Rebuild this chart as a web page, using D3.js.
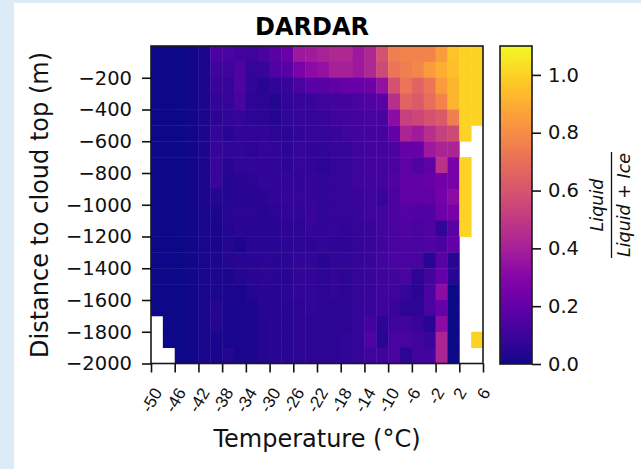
<!DOCTYPE html>
<html>
<head>
<meta charset="utf-8">
<script src="https://cdn.jsdelivr.net/npm/d3@7"></script>
<style>
  body { margin: 0; background: #ddebf7; }
  svg { display: block; font-family: "DejaVu Sans", sans-serif; }
</style>
</head>
<body>
<div id="chart"></div>
<script>

// bin edges (degC, m)
var tempEdges = [-50,-48,-46,-44,-42,-40,-38,-36,-34,-32,-30,-28,-26,-24,-22,-20,-18,-16,-14,-12,-10,-8,-6,-4,-2,0,2,4,6];
var depthEdges = [0,-100,-200,-300,-400,-500,-600,-700,-800,-900,-1000,-1100,-1200,-1300,-1400,-1500,-1600,-1700,-1800,-1900,-2000];

var xTickValues = [-50,-46,-42,-38,-34,-30,-26,-22,-18,-14,-10,-6,-2,2,6];
var xTickLabels = ["-50","-46","-42","-38","-34","-30","-26","-22","-18","-14","-10","-6","-2","2","6"];
var yTickValues = [-200,-400,-600,-800,-1000,-1200,-1400,-1600,-1800,-2000];
var cbarTicks = [0, 0.2, 0.4, 0.6, 0.8, 1.0];

// liquid / (liquid + ice), one row per depth bin (top first), null = no data
var liquidFrac = [
  [0,0,0,0.01,0.03,0.14,0.13,0.12,0.10,0.13,0.17,0.22,0.37,0.38,0.41,0.43,0.43,0.37,0.43,0.59,0.75,0.77,0.77,0.77,0.85,0.96,1.0,1.0],
  [0,0,0,0.01,0.03,0.10,0.10,0.15,0.08,0.09,0.15,0.17,0.27,0.32,0.34,0.40,0.40,0.37,0.43,0.56,0.72,0.75,0.78,0.85,0.90,0.95,1.0,1.0],
  [0,0,0,0.01,0.03,0.09,0.08,0.15,0.07,0.05,0.07,0.09,0.13,0.17,0.17,0.19,0.21,0.21,0.23,0.34,0.59,0.72,0.66,0.72,0.85,0.92,1.0,1.0],
  [0,0,0,0.01,0.03,0.07,0.08,0.13,0.06,0.06,0.04,0.07,0.08,0.09,0.10,0.11,0.12,0.13,0.15,0.17,0.46,0.66,0.62,0.70,0.77,0.92,1.0,1.0],
  [0,0,0,0.01,0.03,0.06,0.07,0.08,0.06,0.06,0.04,0.07,0.08,0.08,0.09,0.10,0.11,0.12,0.13,0.13,0.32,0.52,0.55,0.59,0.62,0.75,1.0,1.0],
  [0,0,0,0.01,0.03,0.08,0.05,0.07,0.07,0.07,0.06,0.06,0.07,0.08,0.08,0.09,0.10,0.11,0.12,0.12,0.20,0.42,0.38,0.46,0.52,0.56,1.0,null],
  [0,0,0,0.01,0.03,0.08,0.07,0.07,0.06,0.08,0.07,0.06,0.08,0.07,0.07,0.08,0.08,0.10,0.11,0.12,0.14,0.21,0.21,0.37,0.42,0.42,null,null],
  [0,0,0,0.01,0.03,0.09,0.05,0.07,0.07,0.07,0.07,0.06,0.08,0.07,0.06,0.08,0.08,0.10,0.12,0.11,0.14,0.19,0.15,0.19,0.47,0.26,1.0,null],
  [0,0,0,0.01,0.03,0.09,0.04,0.05,0.06,0.07,0.07,0.07,0.07,0.08,0.07,0.08,0.08,0.10,0.11,0.12,0.15,0.19,0.19,0.21,0.24,0.26,1.0,null],
  [0,0,0,0.01,0.03,0.04,0.04,0.05,0.05,0.06,0.07,0.08,0.08,0.08,0.07,0.08,0.08,0.09,0.10,0.09,0.14,0.19,0.19,0.19,0.25,0.32,1.0,null],
  [0,0,0,0.01,0.02,0.03,0.05,0.06,0.06,0.05,0.06,0.07,0.07,0.09,0.07,0.08,0.08,0.09,0.10,0.11,0.14,0.16,0.15,0.15,0.23,0.26,1.0,null],
  [0,0,0,0.01,0.02,0.02,0.04,0.06,0.05,0.05,0.05,0.06,0.06,0.08,0.07,0.08,0.07,0.08,0.09,0.11,0.13,0.15,0.13,0.15,0.07,0.17,1.0,null],
  [0,0,0,0.01,0.02,0.02,0.04,0.03,0.05,0.05,0.05,0.06,0.06,0.06,0.07,0.06,0.06,0.08,0.09,0.10,0.13,0.14,0.13,0.15,0.14,0.20,null,null],
  [0,0,0,0.01,0.02,0.03,0.04,0.05,0.05,0.06,0.05,0.06,0.07,0.07,0.05,0.07,0.07,0.08,0.09,0.11,0.13,0.13,0.13,0.05,0.17,0.05,null,null],
  [0,0,0,0.01,0.02,0.03,0.03,0.04,0.05,0.06,0.05,0.05,0.07,0.07,0.06,0.07,0.06,0.08,0.09,0.10,0.11,0.13,0.06,0.11,0.20,0.05,null,null],
  [0,0,0,0.01,0.02,0.03,0.03,0.02,0.04,0.05,0.05,0.06,0.07,0.07,0.06,0.07,0.06,0.08,0.09,0.10,0.10,0.08,0.05,0.13,0.32,0,null,null],
  [0,0,0,0.01,0.02,0.04,0.02,0.02,0.03,0.05,0.05,0.05,0.06,0.07,0.06,0.06,0.06,0.08,0.09,0.10,0.09,0.06,0.06,0.13,0.21,0,null,null],
  [null,0,0,0.01,0.02,0.04,0.02,0.02,0.03,0.04,0.05,0.05,0.06,0.06,0.06,0.06,0.06,0.08,0.12,0.06,0.10,0.11,0.09,0.05,0.32,0,null,null],
  [null,0,0,0.01,0.02,0.02,0.02,0.02,0.03,0.04,0.05,0.05,0.06,0.06,0.06,0.06,0.07,0.08,0.15,0.05,0.13,0.13,0.11,0.09,0.42,0,null,1.0],
  [null,null,0,0.01,0.02,0.02,0.04,0.02,0.03,0.04,0.05,0.05,0.06,0.06,0.06,0.06,0.07,0.08,0.10,0.10,0.13,0.06,0.11,0.12,0.42,0,null,null]
];

var vmax = 1.1;
var W = 641, H = 469;

var svg = d3.select("#chart").append("svg")
  .attr("width", W)
  .attr("height", H);

// white figure panel
svg.append("rect")
  .attr("x", 14).attr("y", 3)
  .attr("width", W - 14).attr("height", H - 3)
  .attr("fill", "#ffffff");

var x = d3.scaleLinear().domain([-50, 6]).range([151, 483]);
var y = d3.scaleLinear().domain([0, -2000]).range([46, 363.5]);
var cy = d3.scaleLinear().domain([0, vmax]).range([364, 46]);
var color = function(v) { return d3.interpolatePlasma(v / vmax); };

// flatten cells
var cells = [];
liquidFrac.forEach(function(row, r) {
  row.forEach(function(v, c) {
    if (v !== null) cells.push({r: r, c: c, v: v});
  });
});

svg.append("g").selectAll("rect")
  .data(cells)
  .enter().append("rect")
    .attr("x", function(d) { return x(tempEdges[d.c]); })
    .attr("y", function(d) { return y(depthEdges[d.r]); })
    .attr("width", function(d) { return x(tempEdges[d.c + 1]) - x(tempEdges[d.c]) + 0.4; })
    .attr("height", function(d) { return y(depthEdges[d.r + 1]) - y(depthEdges[d.r]) + 0.4; })
    .attr("fill", function(d) { return color(d.v); });

// frame
svg.append("rect")
  .attr("x", 151).attr("y", 46)
  .attr("width", 332).attr("height", 317.5)
  .attr("fill", "none")
  .attr("stroke", "#1a1a1a")
  .attr("stroke-width", 1.6);

// x axis
var xAxis = svg.append("g")
  .attr("transform", "translate(0,363.5)")
  .call(d3.axisBottom(x)
    .tickValues(xTickValues)
    .tickFormat(function(d, i) { return xTickLabels[i]; })
    .tickSize(9)
    .tickSizeOuter(0));
xAxis.select(".domain").remove();
xAxis.selectAll("line").attr("stroke", "#111").attr("stroke-width", 1.6);

var xfs = 17;
xAxis.selectAll("text")
  .attr("fill", "#111")
  .style("font-size", xfs + "px")
  .attr("text-anchor", "start")
  .attr("x", 0).attr("y", 0).attr("dy", 0)
  .attr("transform", function() {
    // rotate 60deg, then center the rotated box under the tick like matplotlib
    var w = this.getComputedTextLength();
    var a = 0.93 * xfs, dsc = 0.24 * xfs;
    var c = Math.cos(-Math.PI / 3), s = Math.sin(-Math.PI / 3);
    var pts = [[0, -a], [w, -a], [0, dsc], [w, dsc]].map(function(p) {
      return [p[0] * c - p[1] * s, p[0] * s + p[1] * c];
    });
    var xs = pts.map(function(p) { return p[0]; });
    var ys = pts.map(function(p) { return p[1]; });
    var tx = -(d3.min(xs) + d3.max(xs)) / 2;
    var ty = 21 - d3.min(ys);
    return "translate(" + tx + "," + ty + ") rotate(-60)";
  });

// y axis
var yAxis = svg.append("g")
  .attr("transform", "translate(151,0)")
  .call(d3.axisLeft(y)
    .tickValues(yTickValues)
    .tickFormat(d3.format("d"))
    .tickSize(9)
    .tickPadding(10)
    .tickSizeOuter(0));
yAxis.select(".domain").remove();
yAxis.selectAll("line").attr("stroke", "#111").attr("stroke-width", 1.6);
yAxis.selectAll("text")
  .attr("fill", "#111")
  .style("font-size", "19.5px")
  .style("font-family", "DejaVu Sans");

// axis titles
svg.append("text")
  .attr("x", 317).attr("y", 447)
  .attr("text-anchor", "middle")
  .style("font-size", "24px")
  .attr("fill", "#111")
  .text("Temperature (°C)");

svg.append("text")
  .attr("transform", "translate(48," + 205 + ") rotate(-90)")
  .attr("text-anchor", "middle")
  .style("font-size", "24px")
  .attr("fill", "#111")
  .text("Distance to cloud top (m)");

svg.append("text")
  .attr("x", 312).attr("y", 34.5)
  .attr("text-anchor", "middle")
  .style("font-size", "24px")
  .style("font-weight", "bold")
  .attr("fill", "#000")
  .text("DARDAR");

// colorbar
var grad = svg.append("defs").append("linearGradient")
  .attr("id", "plasma")
  .attr("x1", 0).attr("y1", 1).attr("x2", 0).attr("y2", 0);
grad.selectAll("stop")
  .data(d3.range(0, 1.0001, 0.02))
  .enter().append("stop")
    .attr("offset", function(t) { return t; })
    .attr("stop-color", function(t) { return d3.interpolatePlasma(t); });

svg.append("rect")
  .attr("x", 500).attr("y", cy(vmax))
  .attr("width", 32).attr("height", cy(0) - cy(vmax))
  .attr("fill", "url(#plasma)")
  .attr("stroke", "#1a1a1a")
  .attr("stroke-width", 1.6);

var cAxis = svg.append("g")
  .attr("transform", "translate(532,0)")
  .call(d3.axisRight(cy)
    .tickValues(cbarTicks)
    .tickFormat(d3.format(".1f"))
    .tickSize(9)
    .tickPadding(7)
    .tickSizeOuter(0));
cAxis.select(".domain").remove();
cAxis.selectAll("line").attr("stroke", "#111").attr("stroke-width", 1.6);
cAxis.selectAll("text")
  .attr("fill", "#111")
  .style("font-size", "19.5px")
  .style("font-family", "DejaVu Sans");

// colorbar label: Liquid / (Liquid + Ice)
var frac = svg.append("g")
  .attr("transform", "translate(611.5,205) rotate(-90)");
frac.append("text")
  .attr("x", 0).attr("y", -8.5)
  .attr("text-anchor", "middle")
  .style("font-size", "17.5px")
  .style("font-style", "italic")
  .attr("fill", "#111")
  .text("Liquid");
frac.append("line")
  .attr("x1", -53).attr("x2", 53)
  .attr("y1", 0).attr("y2", 0)
  .attr("stroke", "#111")
  .attr("stroke-width", 1.3);
frac.append("text")
  .attr("x", 0).attr("y", 18.5)
  .attr("text-anchor", "middle")
  .style("font-size", "17.5px")
  .style("font-style", "italic")
  .attr("fill", "#111")
  .text("Liquid + Ice");

</script>
</body>
</html>
